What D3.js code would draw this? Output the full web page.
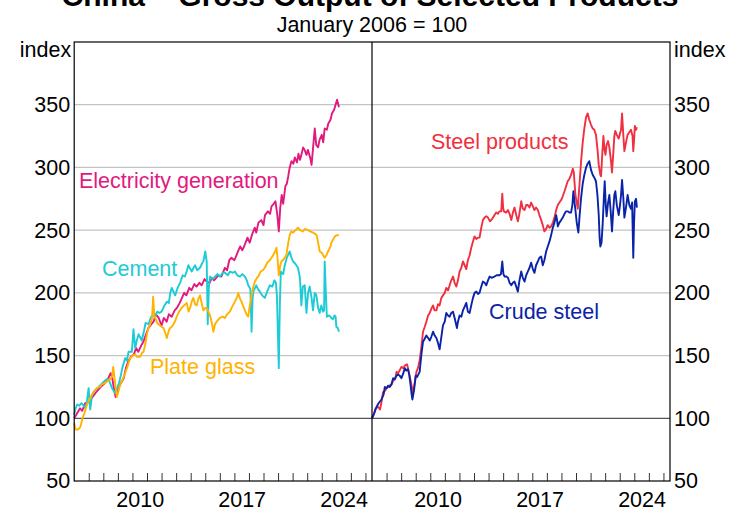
<!DOCTYPE html>
<html>
<head>
<meta charset="utf-8">
<script src="https://cdn.jsdelivr.net/npm/d3@7/dist/d3.min.js"></script>
<style>
  html, body { margin: 0; padding: 0; background: #fff; }
  svg { display: block; font-family: "Liberation Sans", Arial, sans-serif; }
</style>
</head>
<body>
<svg id="chart" width="729" height="512"></svg>
<script>
// ---------- DATA (decimal year, index Jan 2006 = 100) ----------
const titleText = "China – Gross Output of Selected Products";
const subtitleText = "January 2006 = 100";
const yTicks = [50, 100, 150, 200, 250, 300, 350];
const xTickYears = d3.range(2007, 2027);
const xLabelYears = [2010, 2017, 2024];

const electricity = [[2006.0,100],[2006.2,104],[2006.4,108],[2006.55,106],[2006.75,112],[2007.0,113],[2007.2,116],[2007.45,120],[2007.6,122],[2007.9,126],[2008.1,128],[2008.35,132],[2008.5,136],[2008.6,133],[2008.75,122],[2008.85,117],[2009.0,124],[2009.2,128],[2009.4,132],[2009.55,140],[2009.7,145],[2009.9,149],[2010.1,151],[2010.25,156],[2010.4,153],[2010.6,158],[2010.75,161],[2010.9,166],[2011.1,172],[2011.3,175],[2011.45,177],[2011.6,183],[2011.8,180],[2012.0,174],[2012.15,180],[2012.35,177],[2012.5,183],[2012.7,181],[2012.9,186],[2013.05,188],[2013.25,192],[2013.4,196],[2013.55,200],[2013.7,198],[2013.9,204],[2014.05,202],[2014.25,207],[2014.4,205],[2014.6,208],[2014.75,206],[2014.95,211],[2015.1,209],[2015.3,208],[2015.45,212],[2015.6,210],[2015.9,214],[2016.1,213],[2016.35,220],[2016.5,218],[2016.65,226],[2016.8,228],[2017.0,226],[2017.25,233],[2017.4,237],[2017.55,234],[2017.7,238],[2017.9,244],[2018.05,240],[2018.2,246],[2018.4,252],[2018.5,248],[2018.65,256],[2018.85,258],[2019.0,254],[2019.1,262],[2019.3,265],[2019.45,263],[2019.55,269],[2019.7,271],[2019.82,273],[2019.95,262],[2020.05,249],[2020.15,268],[2020.25,278],[2020.35,271],[2020.5,285],[2020.6,287],[2020.7,293],[2020.8,300],[2020.92,305],[2021.05,303],[2021.15,308],[2021.3,304],[2021.4,311],[2021.5,306],[2021.6,310],[2021.72,316],[2021.82,314],[2021.95,310],[2022.05,314],[2022.2,308],[2022.3,302],[2022.42,318],[2022.52,331],[2022.62,318],[2022.75,316],[2022.85,322],[2023.0,326],[2023.1,320],[2023.2,331],[2023.35,330],[2023.45,335],[2023.6,338],[2023.7,343],[2023.85,346],[2023.95,350],[2024.05,354],[2024.18,348]];

const cement = [[2006.0,103],[2006.1,108],[2006.2,111],[2006.35,110],[2006.5,112],[2006.65,110],[2006.76,108],[2006.88,114],[2006.99,124],[2007.1,107],[2007.22,118],[2007.33,121],[2007.5,123],[2007.68,125],[2007.85,127],[2008.02,129],[2008.2,131],[2008.36,131],[2008.5,127],[2008.6,124],[2008.82,120],[2009.05,127],[2009.2,134],[2009.3,140],[2009.5,148],[2009.62,146],[2009.73,153],[2009.96,153],[2010.07,171],[2010.19,156],[2010.3,162],[2010.42,167],[2010.64,162],[2010.8,170],[2010.9,176],[2011.1,175],[2011.25,180],[2011.35,182],[2011.55,181],[2011.7,185],[2011.85,184],[2012.0,185],[2012.2,190],[2012.36,193],[2012.5,192],[2012.6,200],[2012.7,204],[2012.93,198],[2013.1,204],[2013.27,208],[2013.45,214],[2013.6,213],[2013.75,218],[2013.84,222],[2014.07,217],[2014.2,220],[2014.3,222],[2014.45,218],[2014.64,220],[2014.8,224],[2014.87,225],[2015.0,233],[2015.1,225],[2015.17,175],[2015.25,205],[2015.33,213],[2015.5,211],[2015.67,213],[2015.85,215],[2016.0,213],[2016.2,216],[2016.35,216],[2016.55,214],[2016.7,217],[2016.9,216],[2017.04,217],[2017.2,214],[2017.38,213],[2017.55,215],[2017.72,213],[2017.85,210],[2017.95,206],[2018.1,203],[2018.18,169],[2018.25,195],[2018.3,201],[2018.5,206],[2018.62,203],[2018.75,201],[2018.9,198],[2019.09,196],[2019.25,201],[2019.43,206],[2019.6,205],[2019.75,210],[2019.85,208],[2019.92,198],[2020.05,140],[2020.12,190],[2020.19,217],[2020.35,215],[2020.46,222],[2020.6,228],[2020.8,233],[2020.92,228],[2021.03,225],[2021.2,223],[2021.37,220],[2021.5,212],[2021.6,190],[2021.7,205],[2021.83,206],[2021.95,184],[2022.06,200],[2022.17,205],[2022.3,196],[2022.4,186],[2022.52,200],[2022.63,198],[2022.75,188],[2022.86,184],[2022.97,190],[2023.09,185],[2023.16,186],[2023.2,225],[2023.28,200],[2023.35,181],[2023.5,182],[2023.66,180],[2023.77,179],[2023.88,182],[2023.95,181],[2024.0,173],[2024.1,172],[2024.18,169]];

const plateGlass = [[2006.0,96],[2006.1,91],[2006.25,91],[2006.42,93],[2006.6,101],[2006.7,104],[2006.88,111],[2007.0,114],[2007.22,119],[2007.4,122],[2007.56,124],[2007.75,125],[2007.9,127],[2008.1,128],[2008.3,130],[2008.47,131],[2008.6,133],[2008.68,141],[2008.78,131],[2008.93,117],[2009.05,122],[2009.16,127],[2009.3,130],[2009.39,133],[2009.5,136],[2009.62,140],[2009.73,144],[2009.85,148],[2010.0,150],[2010.19,151],[2010.3,149],[2010.53,149],[2010.65,152],[2010.76,153],[2010.9,160],[2010.99,167],[2011.1,172],[2011.22,175],[2011.35,180],[2011.42,197],[2011.5,182],[2011.56,180],[2011.7,176],[2011.79,175],[2012.0,173],[2012.13,172],[2012.25,168],[2012.36,164],[2012.5,170],[2012.58,172],[2012.7,173],[2012.81,175],[2012.95,178],[2013.04,181],[2013.2,185],[2013.38,188],[2013.55,190],[2013.73,192],[2013.85,185],[2013.96,188],[2014.07,193],[2014.18,196],[2014.3,191],[2014.41,190],[2014.52,195],[2014.64,198],[2014.75,192],[2014.87,186],[2015.0,188],[2015.1,188],[2015.33,182],[2015.45,176],[2015.56,169],[2015.67,175],[2015.78,177],[2016.0,180],[2016.2,181],[2016.35,180],[2016.5,183],[2016.69,185],[2016.85,189],[2017.04,193],[2017.2,197],[2017.26,200],[2017.4,195],[2017.49,193],[2017.65,188],[2017.83,183],[2017.95,181],[2018.06,190],[2018.18,198],[2018.3,205],[2018.41,209],[2018.55,212],[2018.64,213],[2018.8,217],[2018.95,218],[2019.09,220],[2019.25,224],[2019.43,226],[2019.55,228],[2019.66,230],[2019.8,233],[2019.89,236],[2019.96,228],[2020.05,214],[2020.15,222],[2020.23,225],[2020.4,227],[2020.57,230],[2020.7,240],[2020.8,246],[2020.91,249],[2021.03,248],[2021.2,250],[2021.37,252],[2021.5,250],[2021.7,249],[2021.85,251],[2022.06,250],[2022.2,249],[2022.4,248],[2022.55,247],[2022.65,246],[2022.75,240],[2022.86,233],[2023.0,232],[2023.2,228],[2023.32,230],[2023.43,233],[2023.6,237],[2023.66,240],[2023.8,243],[2023.9,245],[2024.05,246],[2024.18,246]];

const steelProducts = [[2006.0,100],[2006.15,104],[2006.25,108],[2006.42,109],[2006.55,107],[2006.65,113],[2006.76,121],[2006.9,122],[2007.0,124],[2007.2,126],[2007.35,127],[2007.45,130],[2007.6,132],[2007.68,137],[2007.8,136],[2008.02,141],[2008.15,140],[2008.25,142],[2008.4,143],[2008.47,140],[2008.6,133],[2008.7,127],[2008.82,120],[2008.93,128],[2009.05,137],[2009.15,140],[2009.27,146],[2009.4,158],[2009.5,169],[2009.62,173],[2009.73,177],[2009.85,182],[2009.96,184],[2010.1,188],[2010.19,190],[2010.3,186],[2010.42,186],[2010.53,191],[2010.64,190],[2010.76,196],[2010.87,198],[2010.99,200],[2011.1,204],[2011.22,202],[2011.33,206],[2011.44,210],[2011.56,213],[2011.67,208],[2011.79,205],[2011.9,210],[2012.01,217],[2012.13,220],[2012.24,225],[2012.36,222],[2012.47,219],[2012.58,226],[2012.7,230],[2012.81,236],[2012.93,241],[2013.04,245],[2013.16,243],[2013.27,244],[2013.38,244],[2013.5,252],[2013.61,258],[2013.73,260],[2013.84,261],[2013.96,260],[2014.1,257],[2014.25,259],[2014.41,262],[2014.52,264],[2014.64,263],[2014.75,265],[2014.87,265],[2014.94,279],[2015.0,268],[2015.05,265],[2015.2,264],[2015.33,266],[2015.44,263],[2015.56,258],[2015.67,264],[2015.78,268],[2015.9,262],[2016.01,257],[2016.1,262],[2016.24,273],[2016.35,267],[2016.47,266],[2016.58,270],[2016.69,270],[2016.81,268],[2016.92,272],[2017.04,269],[2017.15,266],[2017.26,268],[2017.38,266],[2017.49,262],[2017.61,258],[2017.72,254],[2017.83,249],[2017.95,251],[2018.06,254],[2018.18,252],[2018.29,253],[2018.41,256],[2018.52,260],[2018.64,266],[2018.75,270],[2018.86,272],[2018.98,274],[2019.09,277],[2019.21,281],[2019.32,285],[2019.43,289],[2019.55,291],[2019.66,294],[2019.78,299],[2019.85,296],[2019.96,278],[2020.05,272],[2020.12,267],[2020.23,285],[2020.35,305],[2020.46,320],[2020.57,331],[2020.69,340],[2020.8,343],[2020.91,338],[2021.03,334],[2021.15,331],[2021.25,330],[2021.37,326],[2021.47,315],[2021.56,302],[2021.67,294],[2021.72,293],[2021.8,310],[2021.88,325],[2021.95,315],[2022.02,310],[2022.1,318],[2022.2,321],[2022.29,316],[2022.4,305],[2022.47,296],[2022.55,310],[2022.63,325],[2022.7,329],[2022.8,326],[2022.93,323],[2023.02,327],[2023.09,330],[2023.16,343],[2023.25,325],[2023.32,313],[2023.43,320],[2023.54,326],[2023.66,328],[2023.77,330],[2023.88,325],[2023.93,313],[2024.0,325],[2024.04,333],[2024.12,330],[2024.18,332]];

const crudeSteel = [[2006.0,100],[2006.15,104],[2006.31,109],[2006.45,112],[2006.65,115],[2006.8,119],[2006.88,125],[2007.0,124],[2007.1,126],[2007.22,125],[2007.33,127],[2007.45,132],[2007.56,131],[2007.68,134],[2007.79,135],[2007.9,134],[2008.02,132],[2008.15,136],[2008.25,140],[2008.36,138],[2008.47,139],[2008.55,135],[2008.64,127],[2008.72,119],[2008.77,115],[2008.88,122],[2009.0,134],[2009.1,133],[2009.27,137],[2009.38,150],[2009.5,161],[2009.6,163],[2009.73,166],[2009.85,164],[2009.96,162],[2010.07,165],[2010.19,169],[2010.3,166],[2010.42,164],[2010.53,160],[2010.64,155],[2010.76,165],[2010.87,174],[2010.99,177],[2011.1,184],[2011.22,182],[2011.33,181],[2011.44,184],[2011.56,185],[2011.67,180],[2011.83,172],[2011.9,177],[2012.01,182],[2012.13,181],[2012.24,186],[2012.36,189],[2012.47,192],[2012.58,185],[2012.7,184],[2012.81,190],[2012.93,196],[2013.04,200],[2013.16,201],[2013.27,199],[2013.38,200],[2013.5,205],[2013.61,209],[2013.73,208],[2013.84,206],[2013.96,210],[2014.07,213],[2014.2,212],[2014.41,213],[2014.55,214],[2014.75,214],[2014.85,215],[2014.94,225],[2015.02,215],[2015.1,213],[2015.22,213],[2015.33,212],[2015.44,208],[2015.56,206],[2015.67,208],[2015.78,209],[2015.9,205],[2016.01,201],[2016.12,210],[2016.24,217],[2016.35,212],[2016.47,209],[2016.58,214],[2016.69,217],[2016.81,220],[2016.92,224],[2017.04,219],[2017.15,216],[2017.26,222],[2017.38,225],[2017.49,228],[2017.61,229],[2017.72,222],[2017.83,226],[2017.95,233],[2018.06,237],[2018.18,241],[2018.29,246],[2018.41,252],[2018.52,256],[2018.64,262],[2018.7,258],[2018.75,253],[2018.86,256],[2018.98,258],[2019.09,260],[2019.21,263],[2019.32,265],[2019.43,265],[2019.55,264],[2019.66,264],[2019.75,270],[2019.82,281],[2019.9,272],[2019.96,266],[2020.05,256],[2020.16,248],[2020.25,262],[2020.35,276],[2020.46,287],[2020.57,294],[2020.69,300],[2020.8,303],[2020.91,305],[2021.03,298],[2021.15,294],[2021.25,292],[2021.37,289],[2021.47,278],[2021.56,262],[2021.62,244],[2021.67,237],[2021.75,240],[2021.83,255],[2021.92,278],[2021.97,289],[2022.04,270],[2022.1,261],[2022.2,272],[2022.29,278],[2022.38,265],[2022.47,249],[2022.55,265],[2022.63,278],[2022.7,281],[2022.8,270],[2022.93,262],[2023.02,270],[2023.09,278],[2023.16,290],[2023.25,275],[2023.32,260],[2023.43,268],[2023.54,278],[2023.66,270],[2023.77,267],[2023.85,272],[2023.93,228],[2023.98,255],[2024.04,273],[2024.12,275],[2024.18,268]];

const leftSeries = [
  {name: "Electricity generation", data: electricity, color: "#e2197e", label: [79, 188]},
  {name: "Cement", data: cement, color: "#1ccbd6", label: [102, 276]},
  {name: "Plate glass", data: plateGlass, color: "#ffb300", label: [150, 374]}
];
const rightSeries = [
  {name: "Steel products", data: steelProducts, color: "#f03040", label: [431, 149]},
  {name: "Crude steel", data: crudeSteel, color: "#0a23a8", label: [489, 319]}
];

// ---------- LAYOUT ----------
const svg = d3.select("#chart");
const pTop = 42, pBottom = 481, pLeft = 74.2, pMid = 372, pRight = 670;
const fs = 21.5;
const xDomain = [2006, 2026.45];
const xL = d3.scaleLinear().domain(xDomain).range([pLeft, pMid]);
const xR = d3.scaleLinear().domain(xDomain).range([pMid, pRight]);
const y = d3.scaleLinear().domain([50, 400]).range([pBottom, pTop]);

// Title & subtitle
svg.append("text").attr("x", 370).attr("y", 6).attr("text-anchor", "middle")
  .attr("font-size", 30).attr("font-weight", "bold").attr("fill", "#000").text(titleText);
svg.append("text").attr("x", 372).attr("y", 32).attr("text-anchor", "middle")
  .attr("font-size", fs).attr("fill", "#000").text(subtitleText);

// Gridlines
const grid = svg.append("g");
grid.selectAll("line.g").data(yTicks.filter(v => v > 100)).enter().append("line")
  .attr("x1", pLeft).attr("x2", pRight)
  .attr("y1", d => y(d)).attr("y2", d => y(d))
  .attr("stroke", "#c4c4c4").attr("stroke-width", 1.2);
grid.append("line").attr("x1", pLeft).attr("x2", pRight)
  .attr("y1", y(100)).attr("y2", y(100))
  .attr("stroke", "#555").attr("stroke-width", 1.3);

// X ticks (inward) and labels
function xAxis(scale) {
  const g = svg.append("g").attr("transform", `translate(0,${pBottom})`);
  g.call(d3.axisBottom(scale).tickValues(xTickYears).tickSize(-8).tickFormat(""));
  g.select(".domain").remove();
  g.selectAll(".tick line").attr("stroke", "#333").attr("stroke-width", 1);
  const gl = svg.append("g").attr("transform", `translate(0,${pBottom})`);
  gl.call(d3.axisBottom(scale).tickValues(xLabelYears.map(v => v + 0.5)).tickSize(0)
    .tickPadding(11).tickFormat(d => Math.floor(d)));
  gl.select(".domain").remove();
  gl.selectAll("text").attr("font-size", fs).attr("fill", "#000")
    .attr("font-family", "Liberation Sans, Arial, sans-serif");
}
xAxis(xL);
xAxis(xR);

// Y axes labels
const yl = svg.append("g").attr("transform", `translate(${pLeft},0)`);
yl.call(d3.axisLeft(y).tickValues(yTicks).tickSize(0).tickPadding(4));
yl.select(".domain").remove();
yl.selectAll("text").attr("font-size", fs).attr("fill", "#000")
  .attr("font-family", "Liberation Sans, Arial, sans-serif");
const yr = svg.append("g").attr("transform", `translate(${pRight},0)`);
yr.call(d3.axisRight(y).tickValues(yTicks).tickSize(0).tickPadding(4));
yr.select(".domain").remove();
yr.selectAll("text").attr("font-size", fs).attr("fill", "#000")
  .attr("font-family", "Liberation Sans, Arial, sans-serif");

svg.append("text").attr("x", pLeft - 3).attr("y", 57).attr("text-anchor", "end")
  .attr("font-size", fs).text("index");
svg.append("text").attr("x", pRight + 4).attr("y", 57).attr("text-anchor", "start")
  .attr("font-size", fs).text("index");

// Lines
function drawSeries(list, xs) {
  const line = d3.line().x(d => xs(d[0])).y(d => y(d[1]));
  list.forEach(s => {
    svg.append("path").datum(s.data).attr("d", line)
      .attr("fill", "none").attr("stroke", s.color).attr("stroke-width", 1.9)
      .attr("stroke-linejoin", "round");
  });
  list.forEach(s => {
    svg.append("text").attr("x", s.label[0]).attr("y", s.label[1])
      .attr("font-size", fs).attr("fill", s.color).text(s.name);
  });
}
drawSeries(leftSeries, xL);
drawSeries(rightSeries, xR);

// Frame
svg.append("rect").attr("x", pLeft).attr("y", pTop).attr("width", pRight - pLeft).attr("height", pBottom - pTop)
  .attr("fill", "none").attr("stroke", "#000").attr("stroke-width", 1.2);
svg.append("line").attr("x1", pMid).attr("x2", pMid).attr("y1", pTop).attr("y2", pBottom)
  .attr("stroke", "#000").attr("stroke-width", 1.2);
</script>
</body>
</html>
